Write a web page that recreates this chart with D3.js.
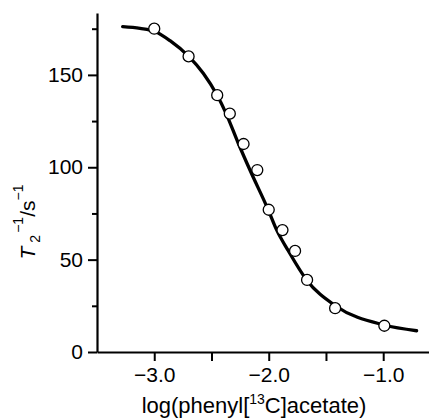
<!DOCTYPE html>
<html>
<head>
<meta charset="utf-8">
<script src="https://cdn.jsdelivr.net/npm/d3@7"></script>
<style>
  html, body { margin: 0; padding: 0; background: #fff; }
  svg { display: block; }
  text { font-family: "Liberation Sans", Arial, Helvetica, sans-serif; fill: #000; }
</style>
</head>
<body>
<svg id="chart" width="429" height="420"></svg>
<script>
// ---- data ----
const pointX = [-3.0, -2.70, -2.45, -2.34, -2.22, -2.10, -2.00, -1.88, -1.77, -1.665, -1.42, -0.99];
const pointY = [175, 160, 139, 129, 112.6, 98.5, 77, 66, 54.7, 39, 23.7, 14.2];

const curveX = [-3.276, -3.124, -2.993, -2.862, -2.697, -2.572, -2.449, -2.376, -2.266, -2.164, -2.004, -1.931, -1.829, -1.669, -1.415, -0.991, -0.708];
const curveY = [176.1, 175.2, 173.5, 168.5, 159.9, 150.9, 138.8, 129.6, 113.0, 98.5, 76.9, 66.1, 54.8, 39.0, 24.9, 14.6, 11.5];

const xMajorTicks = [-3.0, -2.0, -1.0];
const xMinorTicks = [-2.5, -1.5];
const yMajorTicks = [0, 50, 100, 150];
const yMinorTicks = [25, 75, 125, 175];

const xTitleMain = "log(phenyl[";
const xTitleSup = "13";
const xTitleEnd = "C]acetate)";

// ---- layout ----
const svg = d3.select("#chart");
const x = d3.scaleLinear().domain([-3.5, -0.6]).range([97, 429]);
const y = d3.scaleLinear().domain([0, 183.5]).range([352, 13]);
const FS = 21;

const points = pointX.map((v, i) => ({x: v, y: pointY[i]}));
const curve = curveX.map((v, i) => ({x: v, y: curveY[i]}));

// curve
const line = d3.line().x(d => x(d.x)).y(d => y(d.y)).curve(d3.curveMonotoneX);
svg.append("path")
  .datum(curve)
  .attr("d", line)
  .attr("fill", "none")
  .attr("stroke", "#000")
  .attr("stroke-width", 3.3)
  .attr("stroke-linecap", "round");

// axes
const fmtX = d3.format(".1f");
svg.append("g").attr("transform", `translate(0,${y(0)})`)
  .call(d3.axisBottom(x).tickValues(xMajorTicks).tickSize(9).tickSizeOuter(0).tickPadding(6).tickFormat(fmtX));
svg.append("g").attr("transform", `translate(0,${y(0)})`)
  .call(d3.axisBottom(x).tickValues(xMinorTicks).tickSize(9).tickSizeOuter(0).tickFormat(""))
  .select(".domain").remove();

svg.append("g").attr("transform", `translate(${x(-3.5)},0)`)
  .call(d3.axisLeft(y).tickValues(yMajorTicks).tickSize(9).tickSizeOuter(0).tickPadding(5).tickFormat(d3.format("d")));
svg.append("g").attr("transform", `translate(${x(-3.5)},0)`)
  .call(d3.axisLeft(y).tickValues(yMinorTicks).tickSize(5).tickSizeOuter(0).tickFormat(""))
  .select(".domain").remove();

svg.selectAll(".domain").attr("stroke-width", 2.2);
svg.selectAll(".tick line").attr("stroke-width", 2);
svg.selectAll(".tick text").attr("font-size", FS).attr("font-family", null);

// points
svg.append("g").selectAll("circle")
  .data(points)
  .join("circle")
  .attr("cx", d => x(d.x))
  .attr("cy", d => y(d.y))
  .attr("r", 5.5)
  .attr("fill", "#fff")
  .attr("stroke", "#000")
  .attr("stroke-width", 1.3);

// x title
const xt = svg.append("text")
  .attr("x", 254).attr("y", 413)
  .attr("text-anchor", "middle")
  .attr("font-size", 22);
xt.append("tspan").text(xTitleMain);
xt.append("tspan").attr("font-size", 14).attr("dy", -9).text(xTitleSup);
xt.append("tspan").attr("dy", 9).text(xTitleEnd);

// y title
const yt = svg.append("text")
  .attr("transform", "translate(35,222) rotate(-90)")
  .attr("text-anchor", "middle")
  .attr("font-size", FS);
yt.append("tspan").attr("font-style", "italic").text("T");
yt.append("tspan").attr("font-size", 14).attr("dx", 4).attr("dy", 5).text("2");
yt.append("tspan").attr("font-size", 14).attr("dx", 2).attr("dy", -17).text("\u22121");
yt.append("tspan").attr("dy", 12).text("/s");
yt.append("tspan").attr("font-size", 14).attr("dy", -12).text("\u22121");
</script>
</body>
</html>
